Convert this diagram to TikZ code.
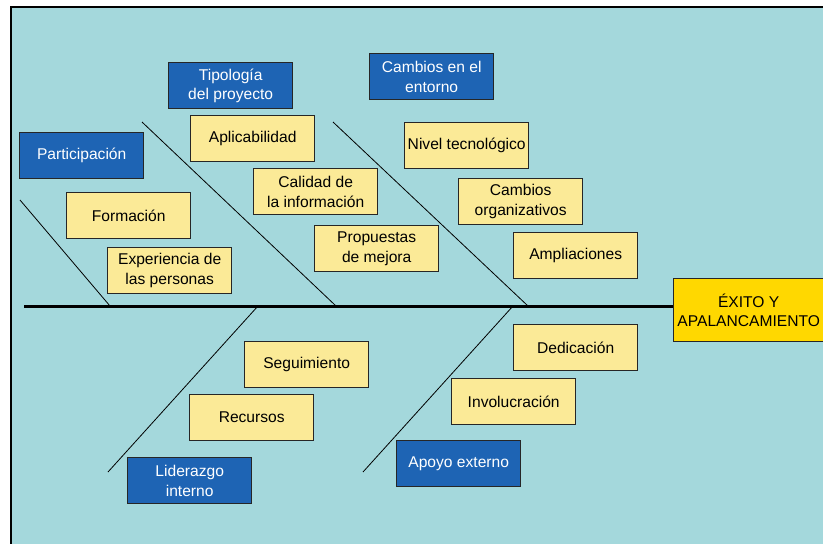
\documentclass[tikz,border=0pt]{standalone}
\usepackage{fontspec}
\setmainfont{Liberation Sans}
\definecolor{bgc}{RGB}{164,216,220}
\definecolor{blu}{RGB}{30,100,180}
\definecolor{yel}{RGB}{251,234,151}
\definecolor{gold}{RGB}{255,216,0}
\begin{document}
\begin{tikzpicture}[x=1pt,y=-1pt,
  box/.style={draw=black!85, line width=1.4pt, minimum width=124pt, minimum height=46pt,
    anchor=north west, align=center, inner sep=0.5pt, font=\fontsize{15.6}{19.5}\selectfont},
  ybox/.style={box, fill=yel, text=black},
  bbox/.style={box, fill=blu, text=white},
  bone/.style={line width=0.8pt, black}]
\useasboundingbox (0,0) rectangle (823,544);
\fill[white] (0,0) rectangle (823,544);
\fill[bgc] (11,7) rectangle (823,544);
\draw[line width=2pt] (11,544) -- (11,7) -- (823,7);

% effect
\node[box, fill=gold, minimum width=150pt, minimum height=63pt] (exito) at (673,278) {ÉXITO Y\\APALANCAMIENTO};

% spine and bones
\coordinate (spineL) at (24,306);
\coordinate (s1) at (110,306);
\coordinate (s2) at (336,306);
\coordinate (s3) at (528,306);
\coordinate (s4) at (258,306);
\coordinate (s5) at (513,306);
\coordinate (e1) at (20,200);
\coordinate (e2) at (142,122);
\coordinate (e3) at (333,122);
\coordinate (e4) at (108,472);
\coordinate (e5) at (363,472);
\draw[bone] (e1) -- (s1);
\draw[bone] (e2) -- (s2);
\draw[bone] (e3) -- (s3);
\draw[bone] (e4) -- (s4);
\draw[bone] (e5) -- (s5);
\draw[line width=3pt] (spineL) -- (spineL -| exito.west);

% category boxes
\node[bbox] (tip) at (168,62) {Tipología\\del proyecto};
\node[bbox] (camb) at (369,53) {Cambios en el\\entorno};
\node[bbox] (part) at (19,132) {Participación};
\node[bbox] (lid) at (127,457) {Liderazgo\\interno};
\node[bbox] (apoyo) at (396,440) {Apoyo externo};

% cause boxes
\node[ybox] (aplic) at (190,115) {Aplicabilidad};
\node[ybox] (calid) at (253,168) {Calidad de\\la información};
\node[ybox] (prop) at (314,225) {Propuestas\\de mejora};
\node[ybox] (form) at (66,192) {Formación};
\node[ybox] (exp) at (107,247) {Experiencia de\\las personas};
\node[ybox] (nivel) at (404,122) {Nivel tecnológico};
\node[ybox] (corg) at (458,178) {Cambios\\organizativos};
\node[ybox] (ampl) at (513,232) {Ampliaciones};
\node[ybox] (seg) at (244,341) {Seguimiento};
\node[ybox] (rec) at (189,394) {Recursos};
\node[ybox] (ded) at (513,324) {Dedicación};
\node[ybox] (inv) at (451,378) {Involucración};
\end{tikzpicture}
\end{document}
